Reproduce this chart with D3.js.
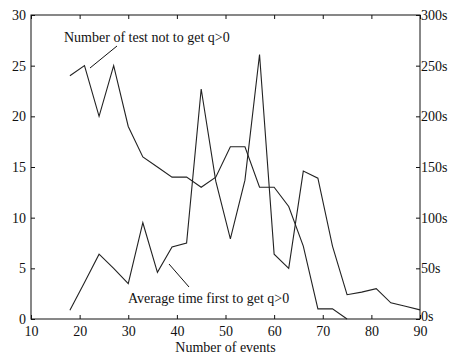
<!DOCTYPE html>
<meta charset="utf-8">
<style>
body { margin: 0; background: #fff; }
text { font-family: "Liberation Serif", "Times New Roman", serif; font-size: 14px; fill: #111; }
.line { fill: none; stroke: #222; stroke-width: 1.1px; }
.frame { fill: none; stroke: #111; stroke-width: 1px; }
</style>
<svg width="451" height="356"></svg>
<script src="https://d3js.org/d3.v7.min.js"></script>
<script>
var xTicks = [10, 20, 30, 40, 50, 60, 70, 80, 90];
var leftTicks = [0, 5, 10, 15, 20, 25, 30];
var rightTicks = [0, 50, 100, 150, 200, 250, 300];

// number of test not to get q>0 (left axis)
var testX = [18, 21, 24, 27, 30, 33, 36, 39, 42, 45, 48, 51, 54, 57, 60, 63, 66, 69, 72, 75];
var testN = [24, 25, 20, 25, 19, 16, 15, 14, 14, 13, 14, 17, 17, 13, 13, 11.1, 7.2, 1, 1, 0];

// average time first to get q>0 (right axis, seconds)
var timeX = [18, 21, 24, 27, 30, 33, 36, 39, 42, 45, 48, 51, 54, 57, 60, 63, 66, 69, 72, 75, 78, 81, 84, 87, 90];
var timeS = [8.6, 36, 64, 50, 35, 95, 46, 71, 75, 227, 136, 79, 137, 261, 64, 50, 146, 139, 72, 24, 26.5, 30, 16, 12.5, 9];

var svg = d3.select("svg");
var mLeft = 31, mRight = 420, mTop = 15, mBottom = 319;

var x = d3.scaleLinear().domain([10, 90]).range([mLeft, mRight]);
var yL = d3.scaleLinear().domain([0, 30]).range([mBottom, mTop]);
var yR = d3.scaleLinear().domain([0, 300]).range([mBottom, mTop]);

svg.append("rect").attr("class", "frame")
    .attr("x", mLeft).attr("y", mTop)
    .attr("width", mRight - mLeft).attr("height", mBottom - mTop);

// axes, ticks inward like the original
svg.append("g").attr("transform", "translate(0," + mBottom + ")")
    .call(d3.axisBottom(x).tickValues(xTicks).tickSize(-4).tickPadding(7))
    .call(function(g) { g.select(".domain").remove(); });
svg.append("g").attr("transform", "translate(0," + mTop + ")")
    .call(d3.axisTop(x).tickValues(xTicks).tickSize(-4).tickFormat(""))
    .call(function(g) { g.select(".domain").remove(); });
svg.append("g").attr("transform", "translate(" + mLeft + ",0)")
    .call(d3.axisLeft(yL).tickValues(leftTicks).tickSize(-4).tickPadding(5))
    .call(function(g) { g.select(".domain").remove(); });
svg.append("g").attr("class", "raxis").attr("transform", "translate(" + mRight + ",0)")
    .call(d3.axisRight(yR).tickValues(rightTicks).tickSize(-4).tickPadding(1)
      .tickFormat(function(d) { return d + "s"; }))
    .call(function(g) { g.select(".domain").remove(); });

svg.selectAll(".tick line").attr("stroke", "#111");
svg.selectAll(".tick text").style("font-family", "Liberation Serif").style("font-size", "14px").attr("fill", "#111");
// lift the "0s" label a little so it clears the "90"
svg.selectAll(".raxis .tick text").filter(function(d) { return d === 0; }).attr("dy", "0.1em");

var lineL = d3.line().x(function(d) { return x(d[0]); }).y(function(d) { return yL(d[1]); });
var lineR = d3.line().x(function(d) { return x(d[0]); }).y(function(d) { return yR(d[1]); });

svg.append("path").attr("class", "line")
    .attr("d", lineL(d3.zip(testX, testN)));
svg.append("path").attr("class", "line")
    .attr("d", lineR(d3.zip(timeX, timeS)));

// annotations
svg.append("text").attr("x", 64).attr("y", 42).text("Number of test not to get q>0");
svg.append("line").attr("x1", 117).attr("y1", 46).attr("x2", 90).attr("y2", 68)
    .attr("stroke", "#111");
svg.append("text").attr("x", 128).attr("y", 303).text("Average time first to get q>0");
svg.append("line").attr("x1", 169).attr("y1", 264).attr("x2", 189).attr("y2", 287)
    .attr("stroke", "#111");

svg.append("text").attr("x", (mLeft + mRight) / 2).attr("y", 352)
    .attr("text-anchor", "middle").text("Number of events");
</script>
